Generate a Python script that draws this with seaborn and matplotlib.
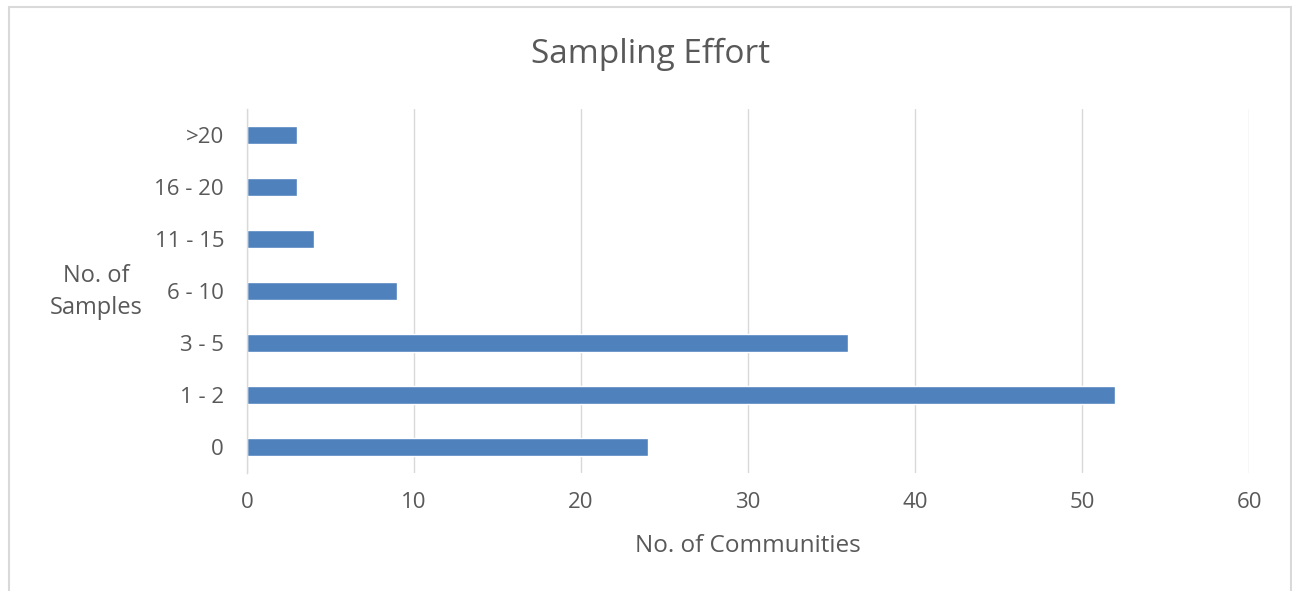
import pandas as pd
import seaborn as sns
import matplotlib.pyplot as plt
from matplotlib.patches import Rectangle

# data
categories = [">20", "16 - 20", "11 - 15", "6 - 10", "3 - 5", "1 - 2", "0"]
communities = [3, 3, 4, 9, 36, 52, 24]

df = pd.DataFrame({"samples": categories, "communities": communities})

sns.set_style("white")
plt.rcParams['font.family'] = ['Open Sans', 'DejaVu Sans']

text_col = "#595959"
grid_col = "#D9D9D9"

fig = plt.figure(figsize=(12.92, 5.91), dpi=100)
ax = fig.add_axes([247 / 1292, 118 / 591, 1002 / 1292, 364 / 591])

sns.barplot(data=df, y="samples", x="communities", order=categories,
            color="#4F81BD", saturation=1, width=0.35, orient="h", ax=ax)

ax.set_xlim(0, 60)
ax.set_xticks(range(0, 61, 10))
ax.set_ylim(6.5, -0.5)
ax.grid(axis="x", color=grid_col, linewidth=1)
ax.set_axisbelow(True)
for s in ["top", "right", "bottom"]:
    ax.spines[s].set_visible(False)
ax.spines["left"].set_color(grid_col)
ax.spines["left"].set_linewidth(1)

ax.tick_params(axis="both", length=0, labelsize=16, labelcolor=text_col)
ax.tick_params(axis="x", pad=14)
ax.tick_params(axis="y", pad=16.5)

ax.set_xlabel("No. of Communities", fontsize=17.5, color=text_col)
ax.xaxis.set_label_coords(0.5, -(546 - 473) / 364)
ax.xaxis.label.set_va("center")
ax.set_ylabel("No. of\nSamples", fontsize=17, color=text_col, rotation=0,
              ha="center", va="center", linespacing=1.4)
ax.yaxis.set_label_coords(-(247 - 96) / 1002, (473 - 292) / 364)

fig.text(651 / 1292, 1 - 63 / 591, "Sampling Effort", fontsize=24,
         color=text_col, ha="center", va="baseline")

# chart frame, open at the bottom
fig.patches.append(Rectangle((8.5, -20), 1282, 604.5, transform=None,
                             fill=False, edgecolor="#D9D9D9", linewidth=1.5))

fig.savefig("out.png", dpi=100)
